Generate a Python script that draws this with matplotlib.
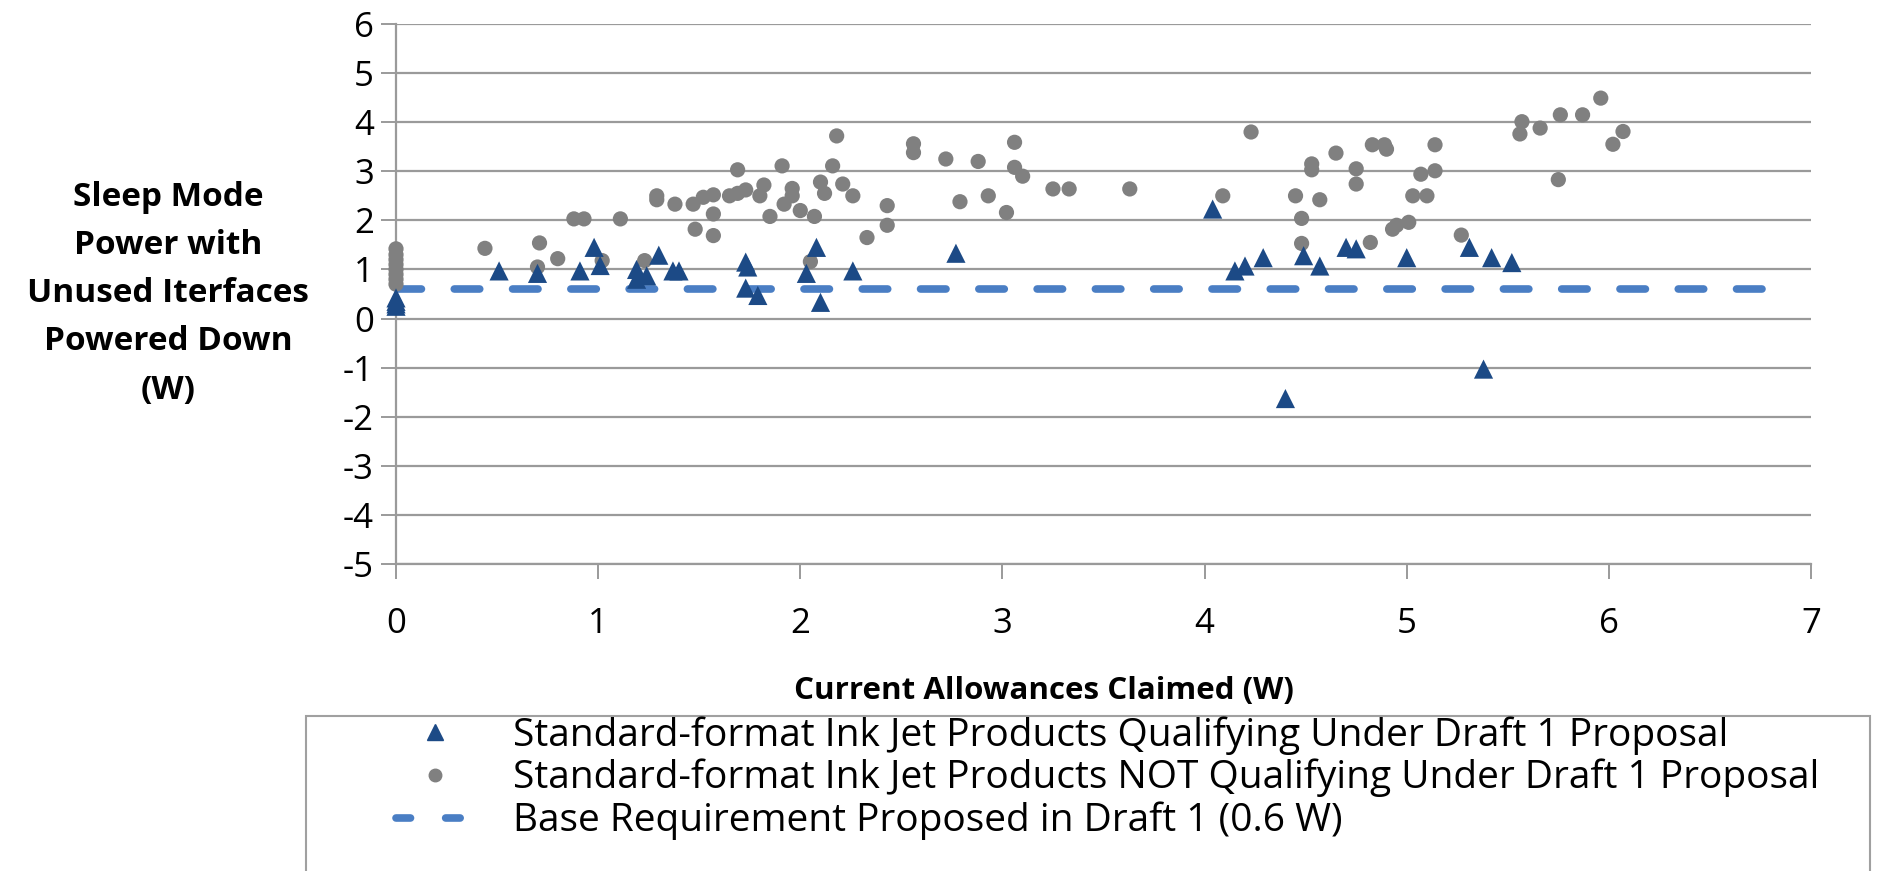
import matplotlib
matplotlib.use("Agg")
import matplotlib.pyplot as plt
from matplotlib.lines import Line2D
from matplotlib.patches import Rectangle

plt.rcParams['font.family'] = ['Open Sans', 'DejaVu Sans']
plt.rcParams['axes.unicode_minus'] = False

# Products qualifying under Draft 1 (x: allowance claimed, y: sleep power with interfaces down)
qual_x = [0, 0, 0, 0, 0.51, 0.70, 0.91, 0.98, 1.01, 1.19, 1.19, 1.24, 1.30, 1.37,
          1.40, 1.73, 1.74, 1.73, 1.79, 2.03, 2.08, 2.10, 2.26, 2.77, 4.04, 4.15,
          4.20, 4.29, 4.40, 4.49, 4.57, 4.70, 4.75, 5.00, 5.31, 5.38, 5.42, 5.52]
qual_y = [0.25, 0.30, 0.35, 0.42, 0.97, 0.92, 0.97, 1.45, 1.08, 1.00, 0.80, 0.87, 1.29, 0.97,
          0.97, 1.15, 1.05, 0.62, 0.47, 0.92, 1.45, 0.33, 0.97, 1.33, 2.23, 0.97,
          1.07, 1.24, -1.63, 1.28, 1.07, 1.45, 1.42, 1.24, 1.45, -1.03, 1.24, 1.14]

# Products not qualifying under Draft 1
nonq_x = [0, 0, 0, 0, 0, 0, 0, 0,
          0.44, 0.71, 0.70, 0.80, 0.88, 0.93, 1.11, 1.02, 1.23, 1.29, 1.29, 1.38,
          1.47, 1.52, 1.57, 1.57, 1.48, 1.57, 1.69, 1.65, 1.69, 1.73, 1.82, 1.80,
          1.91, 1.96, 1.96, 1.92, 1.85, 2.00, 2.07, 2.10, 2.12, 2.18, 2.16, 2.21,
          2.26, 2.05, 2.33, 2.43, 2.43, 2.56, 2.56, 2.72, 2.79, 2.88, 2.93, 3.02,
          3.06, 3.06, 3.10, 3.25, 3.33, 3.63, 4.09, 4.23, 4.45, 4.48, 4.48, 4.53,
          4.53, 4.57, 4.65, 4.75, 4.75, 4.82, 4.83, 4.89, 4.90, 4.93, 4.95, 5.01,
          5.03, 5.10, 5.07, 5.14, 5.14, 5.27, 5.57, 5.56, 5.66, 5.76, 5.75, 5.87,
          5.96, 6.07, 6.02]
nonq_y = [0.70, 0.80, 0.90, 1.00, 1.10, 1.20, 1.30, 1.42,
          1.43, 1.54, 1.05, 1.22, 2.03, 2.03, 2.03, 1.18, 1.18, 2.50, 2.42, 2.33,
          2.33, 2.47, 2.52, 2.13, 1.82, 1.69, 3.03, 2.50, 2.55, 2.62, 2.72, 2.50,
          3.11, 2.65, 2.50, 2.33, 2.08, 2.20, 2.08, 2.78, 2.55, 3.72, 3.11, 2.74,
          2.50, 1.16, 1.65, 2.30, 1.90, 3.56, 3.38, 3.25, 2.38, 3.20, 2.50, 2.16,
          3.59, 3.08, 2.90, 2.64, 2.64, 2.64, 2.50, 3.80, 2.50, 2.04, 1.53, 3.15,
          3.03, 2.42, 3.37, 3.05, 2.74, 1.55, 3.54, 3.54, 3.45, 1.82, 1.90, 1.96,
          2.50, 2.50, 2.94, 3.01, 3.54, 1.70, 4.01, 3.76, 3.88, 4.15, 2.83, 4.15,
          4.49, 3.81, 3.55]

# Draft 1 base requirement
base_x = [0, 6.86]
base_y = [0.6, 0.6]

x_ticks = [0, 1, 2, 3, 4, 5, 6, 7]
y_ticks = [6, 5, 4, 3, 2, 1, 0, -1, -2, -3, -4, -5]

labels = ["Standard-format Ink Jet Products Qualifying Under Draft 1 Proposal",
          "Standard-format Ink Jet Products NOT Qualifying Under Draft 1 Proposal",
          "Base Requirement Proposed in Draft 1 (0.6 W)"]

W, H = 1881, 871
fig = plt.figure(figsize=(W / 100, H / 100), dpi=100)
ax = fig.add_axes([396 / W, 1 - 564 / H, (1811 - 396) / W, (564 - 24) / H])

grid_c = '#9a9a9a'
tri_c = '#1c4a86'
dot_c = '#808080'
line_c = '#4a7ec4'

ax.set_xlim(0, 7)
ax.set_ylim(-5, 6)
ax.set_xticks(x_ticks)
ax.set_yticks(y_ticks)
ax.yaxis.grid(True, color=grid_c, lw=1.6)
ax.set_axisbelow(True)
for s in ['top', 'right']:
    ax.spines[s].set_visible(False)
for s in ['left', 'bottom']:
    ax.spines[s].set_color(grid_c)
    ax.spines[s].set_linewidth(1.6)
ax.spines['left'].set_zorder(0.5)
ax.tick_params(axis='both', colors=grid_c, width=1.4, length=11, labelcolor='black',
               labelsize=25)
ax.tick_params(axis='x', pad=20)
ax.tick_params(axis='y', pad=5)

ax.plot(base_x, base_y, ls=(0, (3.33, 4.3)), color=line_c, lw=5.5,
        dash_capstyle='round', zorder=2)
ax.scatter(nonq_x, nonq_y, s=120, marker='o', color=dot_c, edgecolors='none',
           zorder=3, clip_on=False)
ax.scatter(qual_x, qual_y, s=190, marker='^', color=tri_c, edgecolors='none',
           zorder=4, clip_on=False)

fig.text(168 / W, 1 - 294 / H, "Sleep Mode\nPower with\nUnused Iterfaces\nPowered Down\n(W)",
         ha='center', va='center', fontsize=24, fontweight='bold', linespacing=1.6)
fig.text(1044 / W, 1 - 691 / H, "Current Allowances Claimed (W)",
         ha='center', va='center', fontsize=22.5, fontweight='bold')

# Legend frame (runs off the bottom edge of the figure)
fig.add_artist(Rectangle((306 / W, -0.05), (1870 - 306) / W, 1 - 716 / H + 0.05,
                         transform=fig.transFigure, facecolor='white',
                         edgecolor='#a0a0a0', lw=1.5))

handles = [
    Line2D([], [], ls='none', marker='^', color=tri_c, markersize=12),
    Line2D([], [], ls='none', marker='o', color=dot_c, markersize=9),
    Line2D([], [], ls=(0, (1.9, 4.6)), color=line_c, lw=5.5, dash_capstyle='round'),
]
leg = fig.legend(handles, labels, loc='upper left',
                 bbox_to_anchor=(396 / W, 1 - 716 / H),
                 fontsize=28, frameon=False, borderpad=0, labelspacing=0.11,
                 handlelength=2.0, handletextpad=1.0, borderaxespad=0)

fig.savefig("out.png", dpi=100)
